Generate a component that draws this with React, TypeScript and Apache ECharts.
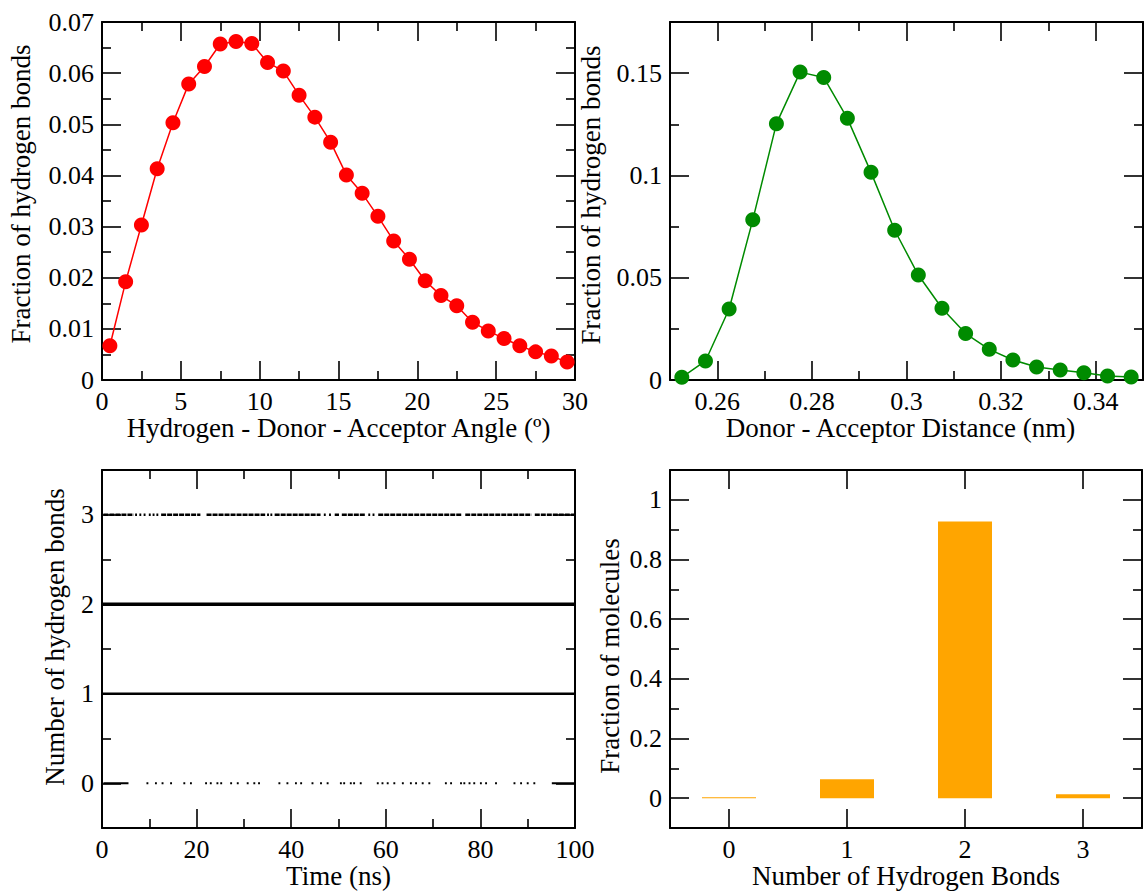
import React, { useEffect, useRef } from "react";
import * as echarts from "echarts";

// ---------- data ----------
const angleX = [0.5, 1.5, 2.5, 3.5, 4.5, 5.5, 6.5, 7.5, 8.5, 9.5, 10.5, 11.5, 12.5, 13.5, 14.5, 15.5, 16.5, 17.5, 18.5, 19.5, 20.5, 21.5, 22.5, 23.5, 24.5, 25.5, 26.5, 27.5, 28.5, 29.5];
const angleFraction = [0.0067, 0.0192, 0.0303, 0.0413, 0.0503, 0.0579, 0.0613, 0.0657, 0.0662, 0.0658, 0.0621, 0.0604, 0.0557, 0.0514, 0.0465, 0.0401, 0.0365, 0.032, 0.0272, 0.0236, 0.0194, 0.0165, 0.0145, 0.0113, 0.0096, 0.0081, 0.0067, 0.0055, 0.0047, 0.0035];

const distanceX = [0.2525, 0.2575, 0.2625, 0.2675, 0.2725, 0.2775, 0.2825, 0.2875, 0.2925, 0.2975, 0.3025, 0.3075, 0.3125, 0.3175, 0.3225, 0.3275, 0.3325, 0.3375, 0.3425, 0.3475];
const distanceFraction = [0.0013, 0.0093, 0.0347, 0.0783, 0.1253, 0.1505, 0.1479, 0.1279, 0.1015, 0.0732, 0.0513, 0.0351, 0.0227, 0.015, 0.0098, 0.0064, 0.0049, 0.0036, 0.002, 0.0015];

// time ranges (ns) during which the molecule had the given number of H-bonds
const twoBondSegments = [[0, 100]];
const oneBondSegments = [[0, 100]];
const threeBondSegments = [
  [0.3, 6.7], [7.0, 7.4], [7.9, 8.3], [8.8, 9.2], [9.9, 10.3], [10.7, 11.1], [11.5, 11.9],
  [12.5, 20.8], [22.1, 34.5], [34.9, 35.3], [35.6, 36.0], [36.5, 46.2], [46.9, 47.3], [48.0, 48.4],
  [49.2, 50.1], [50.7, 55.6], [56.3, 56.7], [57.2, 57.6], [58.4, 76.0], [76.8, 90.8], [91.5, 100],
];
const zeroBondSegments = [
  [0.3, 5.6], [9.4, 9.8], [11.2, 11.6], [12.6, 13.0], [14.4, 14.8], [17.2, 17.6], [18.6, 19.0],
  [21.8, 22.2], [22.8, 23.2], [24.2, 24.6], [25.0, 25.4], [27.1, 27.5], [28.5, 28.9], [30.6, 31.0],
  [32.0, 32.4], [33.0, 33.4], [37.3, 37.7], [39.0, 39.4], [40.8, 41.2], [41.9, 42.3], [44.3, 44.7],
  [46.1, 46.5], [47.5, 47.9], [50.3, 50.7], [51.0, 51.4], [52.4, 52.8], [53.1, 53.5], [54.5, 54.9],
  [58.1, 58.5], [59.1, 59.5], [60.2, 60.6], [61.6, 62.0], [63.4, 63.8], [65.1, 65.5], [66.2, 66.6],
  [67.6, 68.0], [69.0, 69.4], [72.5, 72.9], [73.6, 74.0], [75.7, 76.1], [76.4, 76.8], [77.5, 77.9],
  [78.5, 78.9], [79.9, 80.3], [81.0, 81.4], [83.1, 83.5], [87.0, 87.4], [88.4, 88.8], [89.8, 90.2],
  [91.2, 91.6], [95.1, 100],
];

const bondCounts = [0, 1, 2, 3];
const moleculeFraction = [0.003, 0.063, 0.927, 0.0135];

// ---------- tick labels ----------
const angleXMajor = [0, 5, 10, 15, 20, 25, 30];
const angleXMinor = [2.5, 7.5, 12.5, 17.5, 22.5, 27.5];
const angleYMajor = [0, 0.01, 0.02, 0.03, 0.04, 0.05, 0.06, 0.07];
const angleYMinor = [0.005, 0.015, 0.025, 0.035, 0.045, 0.055, 0.065];

const distXMajor = [0.26, 0.28, 0.3, 0.32, 0.34];
const distXMinor = [0.27, 0.29, 0.31, 0.33];
const distYMajor = [0, 0.05, 0.1, 0.15];
const distYMinor = [0.025, 0.075, 0.125];

const timeXMajor = [0, 20, 40, 60, 80, 100];
const timeXMinor = [10, 30, 50, 70, 90];
const countYMajor = [0, 1, 2, 3];
const countYMinor = [0.5, 1.5, 2.5];

const barXMajor = [0, 1, 2, 3];
const barXMinor: number[] = [];
const barYMajor = [0, 0.2, 0.4, 0.6, 0.8, 1];
const barYMinor = [0.1, 0.3, 0.5, 0.7, 0.9];

// ---------- helpers ----------
const FONT = "Liberation Serif";
const FS_TICK = 26;
const FS_TITLE = 27;

type Spec = {
  min: number; max: number; major: number[]; minor: number[];
  name: string; nameGap: number; namePadding?: number[];
};

function fmt(v: number) {
  return String(parseFloat(Number(v).toFixed(6)));
}

function buildAxes(dim: "x" | "y", gridIndex: number, spec: Spec, list: any[]) {
  const positions = dim === "x" ? ["bottom", "top"] : ["left", "right"];
  let mainIndex = -1;
  positions.forEach((pos, pi) => {
    const base: any = {
      type: "value", gridIndex, min: spec.min, max: spec.max, position: pos,
      splitLine: { show: false }, minorTick: { show: false },
    };
    if (pi === 0) mainIndex = list.length;
    list.push({
      ...base,
      axisLine: { show: true, onZero: false, lineStyle: { color: "#000", width: 2 } },
      axisTick: { show: true, inside: true, length: 19, customValues: spec.major, lineStyle: { color: "#000", width: 1.6 } },
      axisLabel: pi === 0
        ? { show: true, customValues: spec.major, margin: 8, fontSize: FS_TICK, fontFamily: FONT, color: "#000", formatter: fmt, hideOverlap: false, showMinLabel: true, showMaxLabel: true }
        : { show: false },
      name: pi === 0 ? spec.name : "",
      nameLocation: "middle",
      nameGap: spec.nameGap,
      nameTextStyle: { fontSize: FS_TITLE, fontFamily: FONT, color: "#000", padding: spec.namePadding || 0 },
    });
    if (spec.minor.length) {
      list.push({
        ...base,
        axisLine: { show: false, onZero: false },
        axisTick: { show: true, inside: true, length: 9, customValues: spec.minor, lineStyle: { color: "#000", width: 1.6 } },
        axisLabel: { show: false },
      });
    }
  });
  return mainIndex;
}

function segData(segs: number[][], level: number) {
  const d: any[] = [];
  segs.forEach(([a, b], i) => {
    if (i > 0) d.push([a, null]);
    d.push([a, level], [b, level]);
  });
  return d;
}

export default function App() {
  const ref = useRef<HTMLDivElement>(null);
  useEffect(() => {
    if (!ref.current) return;
    const chart = echarts.init(ref.current, undefined, { renderer: "svg" });
    const xAxes: any[] = [];
    const yAxes: any[] = [];

    const grids = [
      { left: 102, top: 22, width: 473, height: 358 },
      { left: 670, top: 22, width: 473, height: 358 },
      { left: 102, top: 470, width: 473, height: 358 },
      { left: 670, top: 470, width: 472, height: 358 },
    ];

    const x0 = buildAxes("x", 0, { min: 0, max: 30, major: angleXMajor, minor: angleXMinor, name: "Hydrogen - Donor - Acceptor Angle (º)", nameGap: 34 }, xAxes);
    const y0 = buildAxes("y", 0, { min: 0, max: 0.07, major: angleYMajor, minor: angleYMinor, name: "Fraction of hydrogen bonds", nameGap: 68, namePadding: [0, 0, 0, 14] }, yAxes);
    const x1 = buildAxes("x", 1, { min: 0.25, max: 0.35, major: distXMajor, minor: distXMinor, name: "Donor - Acceptor Distance (nm)", nameGap: 34, namePadding: [0, 12, 0, 0] }, xAxes);
    const y1 = buildAxes("y", 1, { min: 0, max: 0.175, major: distYMajor, minor: distYMinor, name: "Fraction of hydrogen bonds", nameGap: 66, namePadding: [0, 0, 0, 12] }, yAxes);
    const x2 = buildAxes("x", 2, { min: 0, max: 100, major: timeXMajor, minor: timeXMinor, name: "Time (ns)", nameGap: 34 }, xAxes);
    const y2 = buildAxes("y", 2, { min: -0.5, max: 3.5, major: countYMajor, minor: countYMinor, name: "Number of hydrogen bonds", nameGap: 34, namePadding: [0, 0, 0, 24] }, yAxes);
    const x3 = buildAxes("x", 3, { min: -0.5, max: 3.5, major: barXMajor, minor: barXMinor, name: "Number of Hydrogen Bonds", nameGap: 34 }, xAxes);
    const y3 = buildAxes("y", 3, { min: -0.1, max: 1.1, major: barYMajor, minor: barYMinor, name: "Fraction of molecules", nameGap: 47, namePadding: [0, 14, 0, 0] }, yAxes);

    const bondLine = (segs: number[][], level: number, width: number, dashed: boolean) => ({
      type: "line", xAxisIndex: x2, yAxisIndex: y2, data: segData(segs, level),
      showSymbol: false, symbol: "none", connectNulls: false,
      lineStyle: { color: "#000", width, type: dashed ? [5, 1] : "solid", cap: "butt" },
    });

    chart.setOption({
      animation: false,
      backgroundColor: "#fff",
      textStyle: { fontFamily: FONT },
      grid: grids.map((g) => ({ ...g, containLabel: false, show: false })),
      xAxis: xAxes,
      yAxis: yAxes,
      series: [
        {
          type: "line", xAxisIndex: x0, yAxisIndex: y0,
          data: angleX.map((x, i) => [x, angleFraction[i]]),
          symbol: "circle", symbolSize: 15, showAllSymbol: true,
          itemStyle: { color: "#ff0000" }, lineStyle: { color: "#ff0000", width: 1.5 },
        },
        {
          type: "line", xAxisIndex: x1, yAxisIndex: y1,
          data: distanceX.map((x, i) => [x, distanceFraction[i]]),
          symbol: "circle", symbolSize: 15, showAllSymbol: true,
          itemStyle: { color: "#008b00" }, lineStyle: { color: "#008b00", width: 1.5 },
        },
        bondLine(twoBondSegments, 2, 3.3, false),
        bondLine(oneBondSegments, 1, 2.5, false),
        bondLine(threeBondSegments, 3, 2.6, true),
        bondLine(zeroBondSegments, 0, 2.2, false),
        {
          type: "bar", xAxisIndex: x3, yAxisIndex: y3,
          data: bondCounts.map((c, i) => [c, moleculeFraction[i]]),
          barWidth: 54, itemStyle: { color: "#ffa500" },
        },
      ],
    });
    return () => chart.dispose();
  }, []);
  return <div ref={ref} style={{ position: "absolute", left: 0, top: 0, width: 1146, height: 894 }} />;
}
